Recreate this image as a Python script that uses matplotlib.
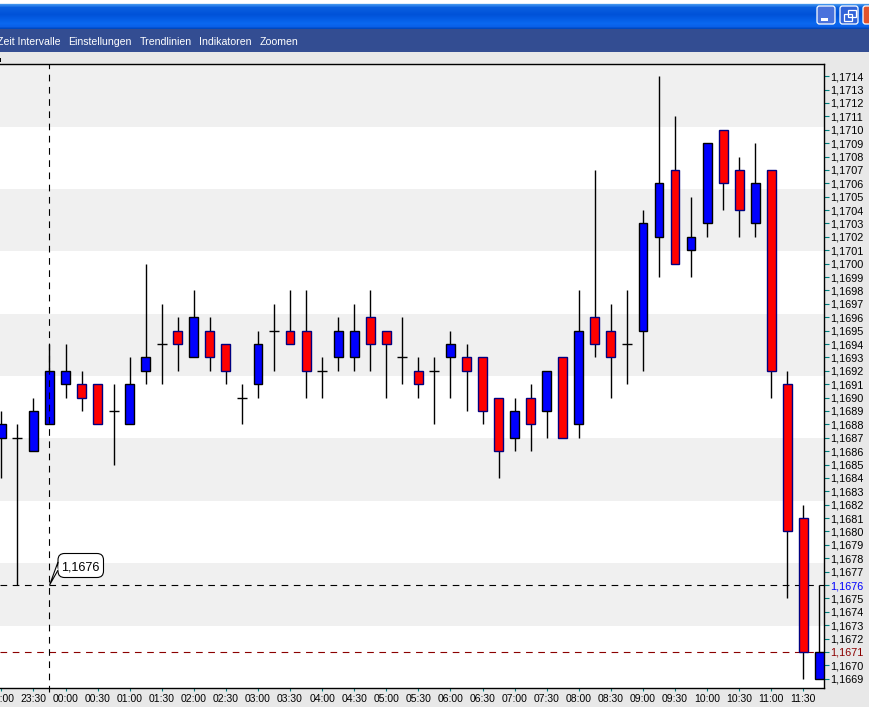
from matplotlib import pyplot as plt
from matplotlib.colors import LinearSegmentedColormap
from matplotlib.patches import FancyBboxPatch, Polygon, Rectangle
import numpy as np

plt.rcParams['font.family'] = ['Liberation Sans', 'DejaVu Sans']

# 15 minute candles, position 0 is the 00:00 candle
positions = list(range(-4, 48))
opens = [1.1687, 1.1687, 1.1686, 1.1688, 1.1691, 1.1691, 1.1691, 1.1689, 1.1688, 1.1692,
         1.1694, 1.1695, 1.1693, 1.1695, 1.1694, 1.1690, 1.1691, 1.1695, 1.1695, 1.1695,
         1.1692, 1.1693, 1.1693, 1.1696, 1.1695, 1.1693, 1.1692, 1.1692, 1.1693, 1.1693,
         1.1693, 1.1690, 1.1687, 1.1690, 1.1689, 1.1693, 1.1688, 1.1696, 1.1695, 1.1694,
         1.1695, 1.1702, 1.1707, 1.1701, 1.1703, 1.1710, 1.1707, 1.1703, 1.1707, 1.1691,
         1.1681, 1.1669]
closes = [1.1688, 1.1687, 1.1689, 1.1692, 1.1692, 1.1690, 1.1688, 1.1689, 1.1691, 1.1693,
          1.1694, 1.1694, 1.1696, 1.1693, 1.1692, 1.1690, 1.1694, 1.1695, 1.1694, 1.1692,
          1.1692, 1.1695, 1.1695, 1.1694, 1.1694, 1.1693, 1.1691, 1.1692, 1.1694, 1.1692,
          1.1689, 1.1686, 1.1689, 1.1688, 1.1692, 1.1687, 1.1695, 1.1694, 1.1693, 1.1694,
          1.1703, 1.1706, 1.1700, 1.1702, 1.1709, 1.1706, 1.1704, 1.1706, 1.1692, 1.1680,
          1.1671, 1.1671]
highs = [1.1689, 1.1688, 1.1690, 1.1694, 1.1694, 1.1692, 1.1691, 1.1691, 1.1693, 1.1700,
         1.1697, 1.1696, 1.1698, 1.1696, 1.1694, 1.1691, 1.1695, 1.1697, 1.1698, 1.1698,
         1.1693, 1.1696, 1.1697, 1.1698, 1.1695, 1.1696, 1.1693, 1.1693, 1.1695, 1.1694,
         1.1693, 1.1690, 1.1690, 1.1691, 1.1692, 1.1693, 1.1698, 1.1707, 1.1697, 1.1698,
         1.1704, 1.1714, 1.1711, 1.1705, 1.1709, 1.1710, 1.1708, 1.1709, 1.1707, 1.1692,
         1.1682, 1.1676]
lows = [1.1684, 1.1676, 1.1686, 1.1688, 1.1690, 1.1689, 1.1688, 1.1685, 1.1688, 1.1691,
        1.1691, 1.1692, 1.1693, 1.1692, 1.1691, 1.1688, 1.1690, 1.1692, 1.1694, 1.1690,
        1.1690, 1.1692, 1.1692, 1.1692, 1.1690, 1.1691, 1.1690, 1.1688, 1.1690, 1.1689,
        1.1688, 1.1684, 1.1686, 1.1686, 1.1687, 1.1687, 1.1687, 1.1693, 1.1690, 1.1691,
        1.1692, 1.1699, 1.1700, 1.1699, 1.1702, 1.1704, 1.1702, 1.1702, 1.1690, 1.1675,
        1.1669, 1.1669]

time_ticks = list(range(-4, 47, 2))
time_labels = ['23:00', '23:30', '00:00', '00:30', '01:00', '01:30', '02:00', '02:30', '03:00',
               '03:30', '04:00', '04:30', '05:00', '05:30', '06:00', '06:30', '07:00', '07:30',
               '08:00', '08:30', '09:00', '09:30', '10:00', '10:30', '11:00', '11:30']
price_ticks = [round(1.1669 + i * 0.0001, 4) for i in range(46)]

cursor_time = -1
cursor_price = 1.1676
last_price = 1.1671

W, H = 869, 707
fig = plt.figure(figsize=(W / 100, H / 100), dpi=100, facecolor='#e8e8e8')

# window frame around the chart, in screen pixels
chrome = fig.add_axes([0, 0, 1, 1], zorder=0)
chrome.set_xlim(0, W)
chrome.set_ylim(H, 0)
chrome.axis('off')
title_cmap = LinearSegmentedColormap.from_list('title', [
    (0, '#ffffff'), (0.1, '#ffffff'), (0.14, '#3f93ee'), (0.25, '#0a5fdf'),
    (0.5, '#0052d8'), (0.82, '#0a68f0'), (0.93, '#0a60e8'), (1, '#0048c0')])
chrome.imshow(np.linspace(0, 1, 29).reshape(-1, 1), cmap=title_cmap, aspect='auto',
              extent=(0, W, 29, 0), zorder=1)
chrome.set_xlim(0, W)
chrome.set_ylim(H, 0)
chrome.add_patch(Rectangle((0, 29), W, 23, fc='#334d92', ec='none', zorder=1))
chrome.text(60.5, 42, 'Zeit Intervalle', color='white', fontsize=7.6, va='center', ha='right', zorder=2)
for label, x in [('Einstellungen', 68), ('Trendlinien', 140), ('Indikatoren', 199), ('Zoomen', 260)]:
    chrome.text(x, 42, label, color='white', fontsize=7.6, va='center', ha='left', zorder=2)
for x0, face in [(817, '#4a72dc'), (840, '#2f62d8'), (863, '#e0522c')]:
    chrome.add_patch(FancyBboxPatch((x0, 6), 18, 18, boxstyle='round,pad=0,rounding_size=2.5',
                                    fc=face, ec='white', lw=0.9, zorder=2))
chrome.add_patch(Rectangle((821, 18), 7, 2.5, fc='white', ec='none', zorder=3))
chrome.add_patch(Rectangle((844, 14), 8, 7, fc='none', ec='white', lw=0.9, zorder=3))
chrome.add_patch(Rectangle((848, 10), 8, 7, fc='none', ec='white', lw=0.9, zorder=3))
chrome.add_patch(Rectangle((0, 58), 1, 4, fc='black', ec='none', zorder=2))

left, right, top, bottom = 0, 824.3, 64.2, 688
ax = fig.add_axes([left / W, (H - bottom) / H, (right - left) / W, (bottom - top) / H], zorder=1)
ax.set_facecolor('white')

# alternating background bands, ten equal rows
for i in range(0, 10, 2):
    ax.add_patch(Rectangle((0, 0.9 - i / 10), 1, 0.1, transform=ax.transAxes,
                           fc='#f0f0f0', ec='none', zorder=0))

ax.axhline(cursor_price, color='black', lw=0.8, ls=(0, (6, 5)), zorder=1)
ax.axhline(last_price, color='#8b0000', lw=0.8, ls=(0, (6, 5)), zorder=1)

ax.vlines(positions, lows, highs, color='black', lw=1.0, zorder=2)
for x, o, c in zip(positions, opens, closes):
    if o == c:
        ax.hlines(o, x - 0.31, x + 0.31, color='black', lw=1.0, zorder=3)
    elif c > o:
        ax.bar(x, c - o, bottom=o, width=0.55, color='#0000ff', edgecolor='black', lw=1.0, zorder=3)
    else:
        ax.bar(x, o - c, bottom=c, width=0.55, color='#ff0000', edgecolor='#000080', lw=1.0, zorder=3)

ax.axvline(cursor_time, ymin=-0.007, ymax=1, color='black', lw=0.8, ls=(0, (6, 5)),
           clip_on=False, zorder=4)

# value bubble at the cursor, placed in screen pixels
ax.add_patch(FancyBboxPatch((58, 553.5), 45.5, 24, boxstyle='round,pad=0,rounding_size=6.5',
                            transform=chrome.transData, fc='white', ec='black', lw=0.8, zorder=5))
ax.add_patch(Polygon([(58, 562), (49.6, 585), (57.5, 571)], closed=True, transform=chrome.transData,
                     fc='white', ec='black', lw=0.8, zorder=5))
ax.add_patch(Polygon([(58.6, 562.5), (58.6, 570.5), (57, 570)], closed=True, transform=chrome.transData,
                     fc='white', ec='none', zorder=5))
ax.text(80.4, 567.8, '1,1676', transform=chrome.transData, fontsize=9.1, ha='center', va='center', zorder=6)

ax.set_xlim((left - 65.5) / 16.04, (right - 65.5) / 16.04)
ax.set_ylim(1.1714 - (bottom - 76.2) * 0.0001 / 13.39, 1.1714 + (76.2 - top) * 0.0001 / 13.39)
ax.set_xticks(time_ticks)
ax.set_xticklabels(time_labels)
ax.set_yticks(price_ticks)
ax.set_yticklabels([f'{p:.4f}'.replace('.', ',') for p in price_ticks])
ax.yaxis.tick_right()
ax.tick_params(axis='y', length=3.4, width=0.8, color='#008080', labelsize=7.8, pad=0.5)
ax.tick_params(axis='x', length=2, width=0.8, color='#008080', labelsize=7.5, pad=2)
for tick, price in zip(ax.get_yticklabels(), price_ticks):
    if price == cursor_price:
        tick.set_color('#0000ff')
    elif price == last_price:
        tick.set_color('#8b0000')

ax.spines['left'].set_visible(False)
for side in ('top', 'right', 'bottom'):
    ax.spines[side].set_linewidth(1.0)

fig.savefig('out.png', dpi=100, facecolor=fig.get_facecolor())
